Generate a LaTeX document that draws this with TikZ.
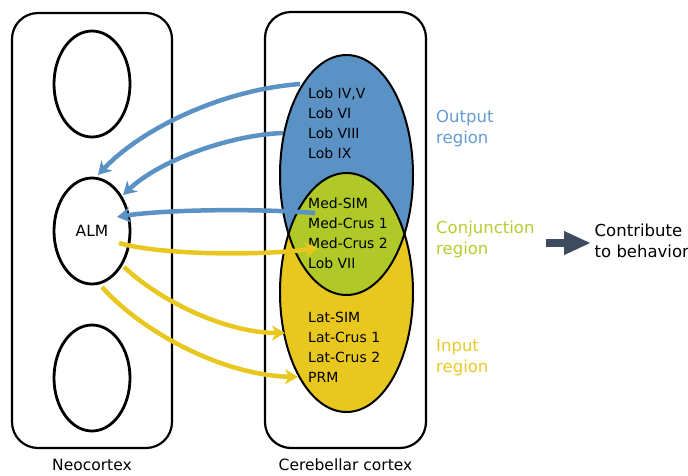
\documentclass[tikz,border=0pt]{standalone}
\usepackage{fontspec}
\setmainfont{DejaVu Sans}
\usetikzlibrary{arrows.meta,shapes.geometric}
\definecolor{cblue}{RGB}{91,146,198}
\definecolor{cgreen}{RGB}{176,200,40}
\definecolor{cyellow}{RGB}{232,200,30}
\definecolor{tblue}{RGB}{100,156,210}
\definecolor{tgreen}{RGB}{184,204,48}
\definecolor{tyellow}{RGB}{235,200,40}
\definecolor{cslate}{RGB}{62,74,94}
\tikzset{
  box/.style={draw=black,line width=2.2pt,rounded corners=26pt},
  oval/.style={ellipse,draw=black,line width=2.8pt,minimum width=76pt,minimum height=106pt,inner sep=0pt},
  lab/.style={font=\fontsize{14}{20}\selectfont,align=left,anchor=north west,inner sep=0pt},
  side/.style={font=\fontsize{16.5}{21}\selectfont,align=left,anchor=west,inner sep=0pt},
  barrow/.style={draw=cblue,line width=4.5pt,-{Stealth[length=13pt,width=15pt,inset=4pt]}},
  yarrow/.style={draw=cyellow,line width=4.5pt,-{Stealth[length=13pt,width=15pt,inset=4pt]}},
}
\begin{document}
\begin{tikzpicture}[x=1pt,y=-1pt]
\useasboundingbox (0,0) rectangle (688,475);
% boxes
\node[box,minimum width=160pt,minimum height=435pt] (neo) at (92,230.5) {};
\node[box,minimum width=161pt,minimum height=436pt] (cer) at (345.5,230) {};
\node[font=\fontsize{15.5}{20}\selectfont] (neolab) at (92,465) {Neocortex};
\node[font=\fontsize{15.5}{20}\selectfont] (cerlab) at (345.5,465) {Cerebellar cortex};
% neocortex ovals
\node[oval] (top) at (92,84) {};
\node[oval,font=\fontsize{15.5}{20}\selectfont] (alm) at (92,231) {ALM};
\node[oval] (bot) at (92,378) {};
% cerebellar regions
\fill[cblue] (346.5,175) ellipse [x radius=66.5,y radius=120];
\fill[cyellow] (346.5,292.5) ellipse [x radius=66.5,y radius=119.5];
\begin{scope}
  \clip (346.5,175) ellipse [x radius=66.5,y radius=120];
  \fill[cgreen] (346.5,292.5) ellipse [x radius=66.5,y radius=119.5];
\end{scope}
\draw[line width=2pt] (346.5,175) ellipse [x radius=66.5,y radius=120];
\draw[line width=2pt] (346.5,292.5) ellipse [x radius=66.5,y radius=119.5];
% texts
\node[lab] (outtxt) at (308,88) {Lob IV,V\\Lob VI\\Lob VIII\\Lob IX};
\node[lab] (contxt) at (308,198) {Med-SIM\\Med-Crus 1\\Med-Crus 2\\Lob VII};
\node[lab] (intxt) at (308,312) {Lat-SIM\\Lat-Crus 1\\Lat-Crus 2\\PRM};
\node[side,text=tblue] (outlab) at (436,128.5) {Output\\region};
\node[side,text=tgreen] (conlab) at (436,239) {Conjunction\\region};
\node[side,text=tyellow] (inlab) at (436,357.5) {Input\\region};
\node[side] (beh) at (594.5,241) {Contribute\\to behavior};
\coordinate (bs) at (546,243);
\coordinate (be) at (591,243);
\draw[draw=cslate,line width=8pt,-{Triangle[length=27pt,width=22pt]}] (bs) -- (be);
% coordinates
\coordinate (b1s) at (300,84);
\coordinate (b1e) at (98,175);
\coordinate (b2s) at (283,133);
\coordinate (b2e) at (123,195);
\coordinate (b3s) at (315,213);
\coordinate (b3e) at (117,217);
\coordinate (y1s) at (119,243);
\coordinate (y1e) at (318,248);
\coordinate (y2s) at (124,267);
\coordinate (y2e) at (285,333);
\coordinate (y3s) at (102,287);
\coordinate (y3e) at (298,377);
% blue arrows
\draw[barrow] (b1s) .. controls (220,90) and (140,130) .. (b1e);
\draw[barrow] (b2s) .. controls (230,135) and (160,160) .. (b2e);
\draw[barrow] (b3s) .. controls (250,208) and (160,210) .. (b3e);
% yellow arrows
\draw[yarrow] (y1s) .. controls (160,255) and (260,256) .. (y1e);
\draw[yarrow] (y2s) .. controls (165,305) and (230,333) .. (y2e);
\draw[yarrow] (y3s) .. controls (140,330) and (220,375) .. (y3e);
\end{tikzpicture}
\end{document}
